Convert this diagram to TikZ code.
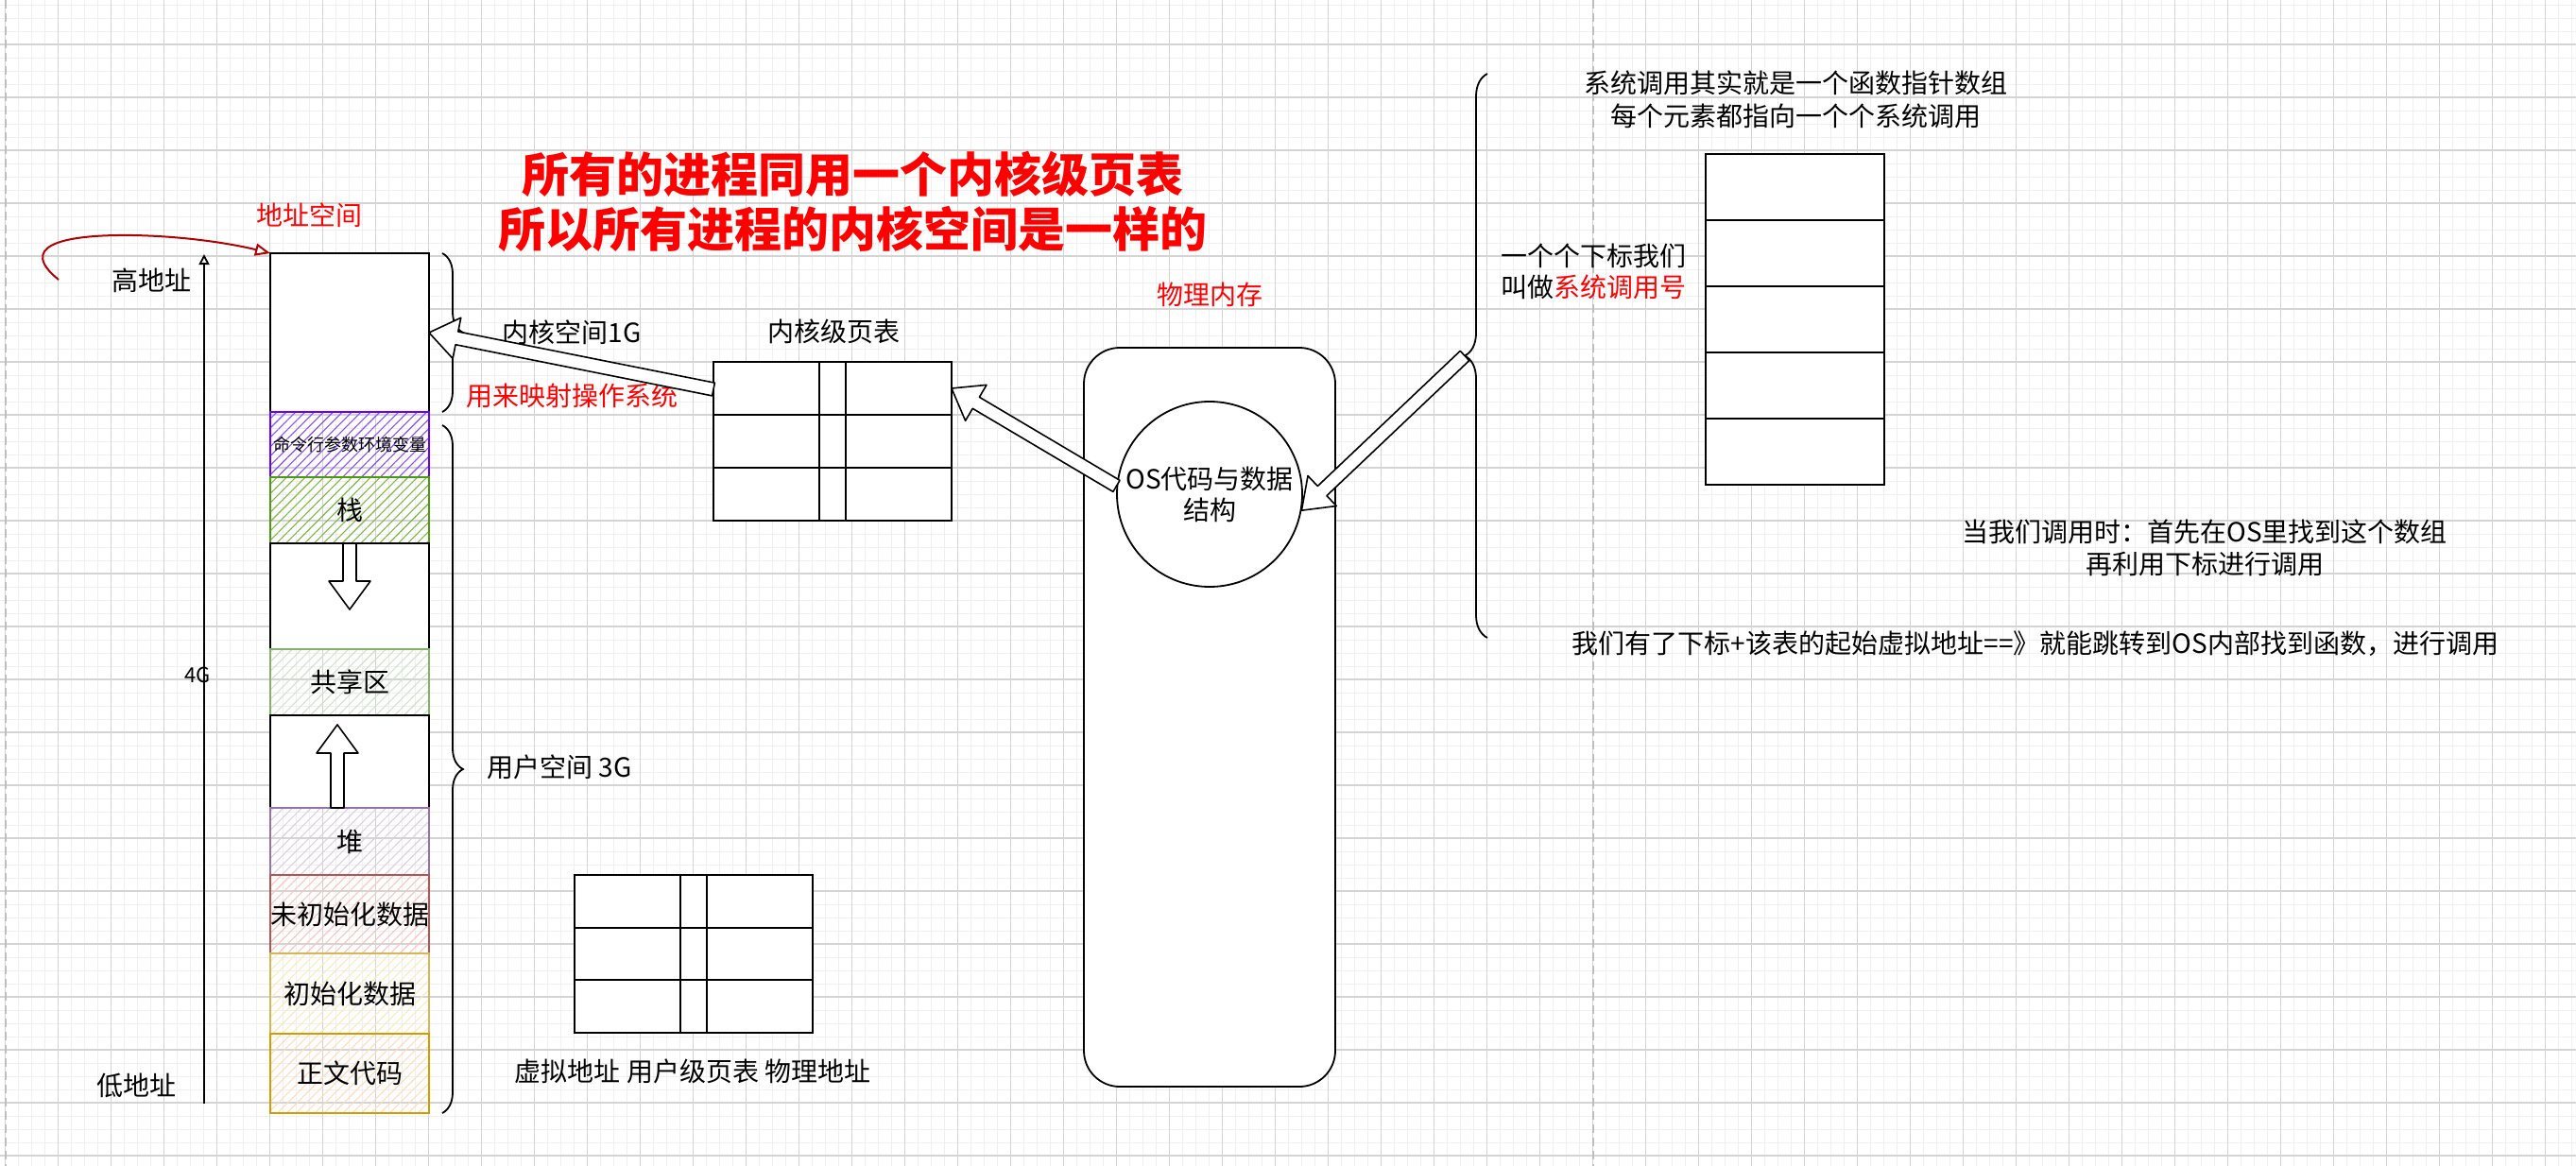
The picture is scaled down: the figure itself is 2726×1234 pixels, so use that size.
\documentclass[tikz,border=0pt]{standalone}
\usepackage{fontspec}
\setmainfont{Noto Sans CJK SC}
\usetikzlibrary{calc,patterns.meta,decorations.pathreplacing,arrows.meta}
\definecolor{cmdc}{HTML}{6A00FF}
\definecolor{cmdh}{HTML}{8B4DFF}
\definecolor{stkc}{HTML}{4D9A12}
\definecolor{stkh}{HTML}{7CB842}
\definecolor{shrc}{HTML}{82B366}
\definecolor{shrh}{HTML}{CFE3CB}
\definecolor{heapc}{HTML}{9673A6}
\definecolor{heaph}{HTML}{DCCFE3}
\definecolor{bssc}{HTML}{B85450}
\definecolor{bssh}{HTML}{F5C6C3}
\definecolor{datc}{HTML}{D6B656}
\definecolor{dath}{HTML}{FCEBC0}
\definecolor{txtc}{HTML}{D79B00}
\definecolor{txth}{HTML}{FFDDBB}
\definecolor{darkred}{HTML}{B00000}
\definecolor{brightred}{HTML}{FF0000}
\definecolor{gmin}{HTML}{F0F0F0}
\definecolor{gmaj}{HTML}{D4D4D4}
\newcommand{\blockarr}[3]{%
  \coordinate (#3t) at (#1);
  \coordinate (#3h) at (#2);
  \coordinate (#3b) at ($(#3h)!30pt!(#3t)$);
  \filldraw[barrow] ($(#3t)!7pt!90:(#3h)$) -- ($(#3b)!7pt!-90:(#3t)$) -- ($(#3b)!22pt!-90:(#3t)$) -- (#3h)
    -- ($(#3b)!22pt!90:(#3t)$) -- ($(#3b)!7pt!90:(#3t)$) -- ($(#3t)!7pt!-90:(#3h)$) -- cycle;}
\tikzset{
  lbl/.style={font=\fontsize{28}{34}\selectfont, inner sep=0pt, align=center},
  titlelbl/.style={font=\bfseries\fontsize{50}{58}\selectfont, inner sep=0pt, text=brightred},
  box/.style={draw=black, line width=1.8pt, minimum width=168pt, inner sep=0pt, outer sep=0pt, font=\fontsize{28}{34}\selectfont},
  wbox/.style={box, fill=white},
  hbox/.style n args={2}{box, draw=#1, pattern={Lines[angle=45,distance=7pt,line width=1.1pt]}, pattern color=#2},
  tline/.style={line width=1.8pt, black},
  barrow/.style={draw=black, fill=white, line width=1.6pt, line join=round},
  bracestyle/.style={draw=black, line width=1.8pt, decorate},
  pagebreak/.style={draw=black!25, line width=1.6pt, dash pattern=on 9pt off 5pt},
}
\begin{document}
\begin{tikzpicture}[x=1pt,y=-1pt]
\useasboundingbox (0,0) rectangle (2726,1234);
\fill[white] (0,0) rectangle (2726,1234);
\begin{scope}
  \clip (0,0) rectangle (2726,1234);
  \draw[gmin, line width=1pt, xshift=5.7pt, yshift=-5pt, step=14pt] (-28pt,28pt) grid (2750pt,-1260pt);
  \draw[gmaj, line width=1.4pt, xshift=5.7pt, yshift=-47pt, step=56pt] (-56pt,56pt) grid (2800pt,-1300pt);
\end{scope}
\draw[pagebreak] (5.7,0) -- (5.7,1234);
\draw[pagebreak] (1685.7,0) -- (1685.7,1234);

% memory column
\node[wbox, minimum height=168pt] (kern) at (370,352) {};
\node[hbox={cmdc}{cmdh}, minimum height=69pt, font=\fontsize{18}{20}\selectfont] (cmd) at (370,470.5) {命令行参数环境变量};
\node[hbox={stkc}{stkh}, minimum height=70pt] (stack) at (370,540) {栈};
\node[wbox, minimum height=112pt] (gap1) at (370,631) {};
\node[hbox={shrc}{shrh}, minimum height=70pt] (shared) at (370,722) {共享区};
\node[wbox, minimum height=98pt] (gap2) at (370,806) {};
\node[hbox={heapc}{heaph}, minimum height=71pt] (heap) at (370,890.5) {堆};
\node[hbox={bssc}{bssh}, minimum height=83pt] (bss) at (370,967.5) {未初始化数据};
\node[hbox={datc}{dath}, minimum height=85pt] (data) at (370,1051.5) {初始化数据};
\node[hbox={txtc}{txth}, minimum height=84pt] (text) at (370,1136) {正文代码};

\blockarr{gap1.north}{$(gap1.north)+(0,70)$}{da}
\blockarr{$(gap2.south)+(-13,0)$}{$(gap2.south)+(-13,-88)$}{ua}

% address axis
\coordinate (vbot) at (216,1168);
\coordinate (vtop) at (216,269);
\draw[line width=1.8pt, -{Triangle[open,length=11pt,width=11pt]}] (vbot) -- (vtop);
\node[lbl, font=\fontsize{22}{26}\selectfont] (g4) at (209,714) {4G};
\node[lbl] (hi) at (160,297) {高地址};
\node[lbl] (lo) at (144,1149) {低地址};
\node[lbl, text=brightred] (asp) at (327,228) {地址空间};
\coordinate (rstart) at (62,296);
\draw[darkred, line width=2pt, -{Triangle[open,length=16pt,width=13pt]}] (rstart) .. controls (20,262) and (60,248) .. (140,249) .. controls (200,250) and (250,259) .. (kern.north west);

% braces
\draw[bracestyle, decoration={brace, amplitude=22pt}] (468,268) -- (468,436);
\draw[bracestyle, decoration={brace, amplitude=22pt}] (468,450) -- (468,1178);
\draw[bracestyle, decoration={brace, amplitude=24pt}] (1574,675) -- (1574,78);
\coordinate (sbtip) at (1550,376.5);

% title
\node[titlelbl] (t1) at (902,184) {所有的进程同用一个内核级页表};
\node[titlelbl] (t2) at (902,242) {所以所有进程的内核空间是一样的};

% labels
\node[lbl] (kspace) at (605,352) {内核空间1G};
\node[lbl, text=brightred] (kmap) at (605,419) {用来映射操作系统};
\node[lbl] (ktabl) at (882,351) {内核级页表};
\node[lbl, text=brightred] (pml) at (1280,312) {物理内存};
\node[lbl] (uspace) at (592,812) {用户空间 3G};
\node[lbl] (utabl) at (733,1134) {虚拟地址 用户级页表 物理地址};

% tables
\node[wbox, minimum width=252pt, minimum height=168pt] (ktab) at (881,467) {};
\node[wbox, minimum width=252pt, minimum height=167pt] (utab) at (734,1009.5) {};
\foreach \t in {ktab,utab}{
  \draw[tline] ($(\t.north west)!0.444!(\t.north east)$) -- ($(\t.south west)!0.444!(\t.south east)$);
  \draw[tline] ($(\t.north west)!0.556!(\t.north east)$) -- ($(\t.south west)!0.556!(\t.south east)$);
  \draw[tline] ($(\t.north west)!0.3333!(\t.south west)$) -- ($(\t.north east)!0.3333!(\t.south east)$);
  \draw[tline] ($(\t.north west)!0.6667!(\t.south west)$) -- ($(\t.north east)!0.6667!(\t.south east)$);
}

% physical memory
\node[draw=black, line width=1.8pt, fill=white, rounded corners=38pt, minimum width=266pt, minimum height=782pt, inner sep=0pt] (pmem) at (1280,759) {};
\node[circle, draw=black, line width=1.8pt, fill=white, minimum size=196pt, inner sep=0pt, font=\fontsize{28}{33}\selectfont, align=center] (osc) at (1280,523) {OS代码与数据\\结构};

% system call array
\foreach \i/\y in {1/198,2/268,3/338,4/408,5/478}{
  \node[wbox, minimum width=189pt, minimum height=70pt] (sc\i) at (1899.5,\y) {};
}
\node[lbl] (scl1) at (1900,88) {系统调用其实就是一个函数指针数组};
\node[lbl] (scl2) at (1900,123) {每个元素都指向一个个系统调用};
\node[lbl, font=\fontsize{28}{33}\selectfont, anchor=west, align=left] (idx) at (1588,287) {一个个下标我们\\叫做\textcolor{brightred}{系统调用号}};
\node[lbl] (call1) at (2333,580) {当我们调用时：首先在OS里找到这个数组\\再利用下标进行调用};
\node[lbl] (call2) at (2154,681) {我们有了下标+该表的起始虚拟地址==》就能跳转到OS内部找到函数，进行调用};

% block arrows
\blockarr{$(ktab.west)+(0,-55)$}{kern.east}{a1}
\blockarr{osc.175}{$(ktab.east)+(0,-56)$}{a2}
\blockarr{sbtip}{osc.-10}{a3}
\end{tikzpicture}
\end{document}
